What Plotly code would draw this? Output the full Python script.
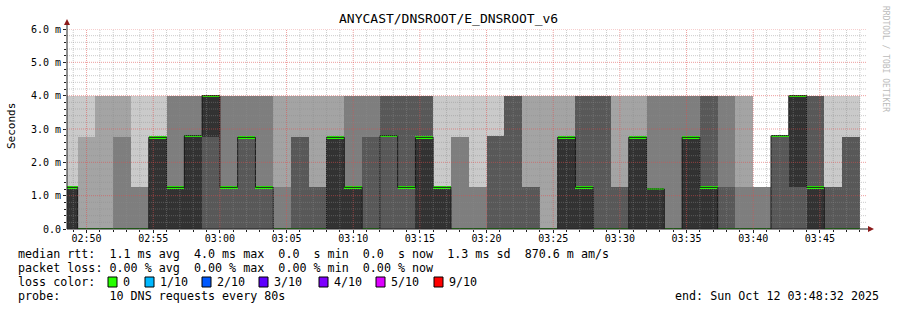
import plotly.graph_objects as go
import pandas as pd

# ---------------- data (values in ms) ----------------
graph_start = "2025-10-12 02:48:32"
graph_end = "2025-10-12 03:48:32"
first_step_end = "2025-10-12 02:49:20"
step_seconds = 80

# sorted ping times per 80 s step (10 DNS requests per step)
ping1 = [0.0, 0.0, 0.0, 0.0, 0.0, 0.0, 0.0, 0.0, 0.0, 0.0,
         0.0, 0.0, 0.0, 0.0, 0.0, 0.0, 0.0, 0.0, 0.0, 0.0,
         0.0, 0.0, 0.0, 0.0, 0.0, 0.0, 0.0, 0.0, 0.0, 0.0,
         0.0, 0.0, 0.0, 0.0, 0.0, 0.0, 0.0, 0.0, 0.0, 0.0,
         0.0, 0.0, 0.0, 0.0, 0.0]
ping2 = [0.0, 0.0, 0.0, 0.0, 0.0, 0.0, 0.0, 0.0, 0.0, 0.0,
         0.0, 0.0, 0.0, 0.0, 0.0, 0.0, 0.0, 0.0, 0.0, 0.0,
         0.0, 0.0, 0.0, 0.0, 0.0, 0.0, 0.0, 0.0, 0.0, 0.0,
         0.0, 0.0, 0.0, 0.0, 0.0, 0.0, 0.0, 0.0, 0.0, 0.0,
         0.0, 0.0, 0.0, 0.0, 0.0]
ping3 = [0.0, 0.0, 0.0, 0.0, 0.0, 0.0, 0.0, 0.0, 0.0, 0.0,
         0.0, 0.0, 0.0, 0.0, 0.0, 0.0, 0.0, 0.0, 0.0, 0.0,
         0.0, 0.0, 0.0, 0.0, 0.0, 0.0, 0.0, 0.0, 0.0, 0.0,
         0.0, 0.0, 0.0, 0.0, 0.0, 0.0, 0.0, 0.0, 0.0, 0.0,
         0.0, 0.0, 0.0, 0.0, 0.0]
ping4 = [0.0, 0.0, 0.0, 0.0, 0.0, 0.0, 0.0, 0.0, 0.0, 0.0,
         0.0, 0.0, 0.0, 0.0, 0.0, 0.0, 0.0, 0.0, 0.0, 0.0,
         0.0, 0.0, 0.0, 0.0, 0.0, 0.0, 0.0, 0.0, 0.0, 0.0,
         0.0, 0.0, 0.0, 0.0, 0.0, 0.0, 0.0, 0.0, 0.0, 0.0,
         0.0, 0.0, 0.0, 0.0, 0.0]
ping5 = [0.0, 0.0, 0.0, 0.0, 0.0, 0.0, 0.0, 0.0, 2.75, 1.25,
         2.75, 1.25, 0.0, 0.0, 0.0, 0.0, 0.0, 0.0, 2.8, 1.25,
         0.0, 0.0, 0.0, 0.0, 0.0, 0.0, 0.0, 0.0, 0.0, 0.0,
         0.0, 0.0, 0.0, 0.0, 0.0, 0.0, 0.0, 0.0, 0.0, 0.0,
         2.8, 1.25, 0.0, 0.0, 0.0]
ping6 = [1.25, 0.0, 0.0, 0.0, 0.0, 2.75, 1.25, 2.8, 4.0, 1.25,
         2.75, 1.25, 0.0, 0.0, 0.0, 2.75, 1.25, 0.0, 2.8, 1.25,
         2.75, 1.25, 0.0, 0.0, 0.0, 0.0, 0.0, 0.0, 2.75, 1.25,
         0.0, 0.0, 2.75, 1.2, 0.0, 2.75, 1.25, 0.0, 0.0, 0.0,
         2.8, 4.0, 1.25, 0.0, 0.0]
ping7 = [1.25, 0.0, 0.0, 0.0, 0.0, 2.75, 1.25, 2.8, 4.0, 1.25,
         2.75, 1.25, 0.0, 2.75, 1.25, 2.75, 1.25, 2.75, 4.0, 4.0,
         4.0, 1.25, 0.0, 0.0, 2.8, 4.0, 1.25, 0.0, 2.75, 4.0,
         4.0, 1.25, 2.75, 1.2, 0.0, 2.75, 4.0, 1.25, 0.0, 0.0,
         2.8, 4.0, 4.0, 1.25, 2.75]
ping8 = [1.25, 0.0, 0.0, 2.75, 1.25, 2.75, 4.0, 4.0, 4.0, 4.0,
         4.0, 4.0, 1.25, 2.75, 1.25, 2.75, 4.0, 4.0, 4.0, 4.0,
         4.0, 1.25, 2.75, 1.25, 2.8, 4.0, 1.25, 0.0, 2.75, 4.0,
         4.0, 1.25, 2.75, 4.0, 4.0, 4.0, 4.0, 4.0, 1.25, 1.25,
         2.8, 4.0, 4.0, 1.25, 2.75]
ping9 = [1.25, 2.75, 4.0, 4.0, 1.25, 2.75, 4.0, 4.0, 4.0, 4.0,
         4.0, 4.0, 4.0, 4.0, 4.0, 4.0, 4.0, 4.0, 4.0, 4.0,
         4.0, 1.25, 2.75, 1.25, 2.8, 4.0, 4.0, 4.0, 4.0, 4.0,
         4.0, 4.0, 4.0, 4.0, 4.0, 4.0, 4.0, 4.0, 4.0, 1.25,
         2.8, 4.0, 4.0, 1.25, 2.75]
ping10 = [4.0, 4.0, 4.0, 4.0, 4.0, 4.0, 4.0, 4.0, 4.0, 4.0,
          4.0, 4.0, 4.0, 4.0, 4.0, 4.0, 4.0, 4.0, 4.0, 4.0,
          4.0, 4.0, 4.0, 4.0, 4.0, 4.0, 4.0, 4.0, 4.0, 4.0,
          4.0, 4.0, 4.0, 4.0, 4.0, 4.0, 4.0, 4.0, 4.0, 1.25,
          2.8, 4.0, 4.0, 4.0, 4.0]
median_rtt = [1.25, 0.0, 0.0, 0.0, 0.0, 2.75, 1.25, 2.8, 4.0, 1.25,
              2.75, 1.25, 0.0, 0.0, 0.0, 2.75, 1.25, 0.0, 2.8, 1.25,
              2.75, 1.25, 0.0, 0.0, 0.0, 0.0, 0.0, 0.0, 2.75, 1.25,
              0.0, 0.0, 2.75, 1.2, 0.0, 2.75, 1.25, 0.0, 0.0, 0.0,
              2.8, 4.0, 1.25, 0.0, 0.0]

y_tick_values = [0, 1, 2, 3, 4, 5, 6]
y_tick_labels = ["0.0", "1.0 m", "2.0 m", "3.0 m", "4.0 m", "5.0 m", "6.0 m"]

title_text = "ANYCAST/DNSROOT/E_DNSROOT_v6"
legend_rtt = "median rtt:  1.1 ms avg  4.0 ms max  0.0  s min  0.0  s now  1.3 ms sd  870.6 m am/s"
legend_loss = "packet loss: 0.00 % avg  0.00 % max  0.00 % min  0.00 % now"
legend_probe = "probe:       10 DNS requests every 80s"
legend_end = "end: Sun Oct 12 03:48:32 2025"
loss_labels = ["0", "1/10", "2/10", "3/10", "4/10", "5/10", "9/10"]
loss_colors = ["#26ff00", "#00b8ff", "#0059ff", "#5e00ff", "#7e00ff", "#dd00ff", "#ff0000"]

smoke_colors = ["#cacaca", "#a4a4a4", "#7e7e7e", "#585858", "#323232"]

# ---------------- geometry helpers ----------------
W, H = 897, 310
ML, MR, MT, MB = 67, 30, 29, 81
PW = W - ML - MR
PH = H - MT - MB


def px_x(px):
    return (px - ML) / PW


def px_y(py):
    return (H - MB - py) / PH


def nb(s):
    return s.replace(" ", "\u00a0")


MONO = "DejaVu Sans Mono"

step_end = pd.date_range(first_step_end, periods=len(median_rtt), freq=f"{step_seconds}s")
step_mid = step_end - pd.Timedelta(seconds=step_seconds / 2)
step_begin = step_end - pd.Timedelta(seconds=step_seconds)

pings = [ping1, ping2, ping3, ping4, ping5, ping6, ping7, ping8, ping9, ping10]

fig = go.Figure()

# smoke: layer i spans ping_i .. ping_(11-i), inner layers darker
for i in range(5):
    lo = pings[i]
    hi = pings[9 - i]
    fig.add_trace(go.Bar(
        x=step_mid, y=[h - l for l, h in zip(lo, hi)], base=lo,
        width=step_seconds * 1000, marker=dict(color=smoke_colors[i], line=dict(width=0)),
        showlegend=False, hoverinfo="skip"))

# median step line
fig.add_trace(go.Scatter(
    x=list(step_begin) + [step_end[-1]], y=median_rtt + [median_rtt[-1]],
    mode="lines", line=dict(color="#1a1a1a", width=1, shape="hv"),
    showlegend=False, hoverinfo="skip"))

# median coloured by loss (0 loss -> green)
band = 0.07
fig.add_trace(go.Bar(
    x=step_mid, y=[band] * len(median_rtt), base=[m - band / 2 for m in median_rtt],
    width=step_seconds * 1000, marker=dict(color=loss_colors[0], line=dict(width=0)),
    showlegend=False, hoverinfo="skip"))

shapes = []
minor_col = "rgba(140,140,140,0.45)"
major_col = "rgba(222,79,79,0.55)"
dash = "1px,1px"
# vertical grid (every minute, major every 5 minutes)
for t in pd.date_range("2025-10-12 02:49:00", "2025-10-12 03:48:00", freq="1min"):
    col = major_col if t.minute % 5 == 0 else minor_col
    shapes.append(dict(type="line", xref="x", yref="paper", x0=t, x1=t, y0=0, y1=1,
                       line=dict(color=col, width=1, dash=dash), layer="above"))
# horizontal grid (every 0.2 ms, major every 1 ms)
for k in range(1, 31):
    yv = k * 0.2
    col = major_col if k % 5 == 0 else minor_col
    shapes.append(dict(type="line", xref="paper", yref="y", x0=0, x1=1, y0=yv, y1=yv,
                       line=dict(color=col, width=1, dash=dash), layer="above"))

# axes lines and arrows
axis_col = "#202020"
arrow_col = "#8b1a1a"
shapes.append(dict(type="line", xref="paper", yref="paper", x0=0, x1=px_x(869), y0=0, y1=0,
                   line=dict(color=axis_col, width=1), layer="above"))
shapes.append(dict(type="line", xref="paper", yref="paper", x0=0, x1=0, y0=0, y1=px_y(24),
                   line=dict(color=axis_col, width=1), layer="above"))
shapes.append(dict(type="path", xref="paper", yref="paper",
                   path=f"M {px_x(64)} {px_y(25)} L {px_x(70)} {px_y(25)} L {px_x(67)} {px_y(19)} Z",
                   fillcolor=arrow_col, line=dict(color=arrow_col, width=0), layer="above"))
shapes.append(dict(type="path", xref="paper", yref="paper",
                   path=f"M {px_x(868)} {px_y(226)} L {px_x(868)} {px_y(232)} L {px_x(874)} {px_y(229)} Z",
                   fillcolor=arrow_col, line=dict(color=arrow_col, width=0), layer="above"))

annotations = []
annotations.append(dict(text=title_text, xref="paper", yref="paper", x=px_x(448), y=px_y(19),
                        xanchor="center", yanchor="middle", showarrow=False,
                        font=dict(family=MONO, size=13, color="#000000")))
annotations.append(dict(text="Seconds", xref="paper", yref="paper", x=px_x(11), y=px_y(126),
                        xanchor="center", yanchor="middle", showarrow=False, textangle=-90,
                        font=dict(family=MONO, size=11, color="#000000")))
annotations.append(dict(text=nb("RRDTOOL / TOBI OETIKER"), xref="paper", yref="paper",
                        x=px_x(886), y=px_y(59), xanchor="center", yanchor="middle",
                        showarrow=False, textangle=90,
                        font=dict(family=MONO, size=8, color="#bbbbbb")))

leg_font = dict(family=MONO, size=11.7, color="#000000")
for txt, yy in [(legend_rtt, 254), (legend_loss, 268), (legend_probe, 296)]:
    annotations.append(dict(text=nb(txt), xref="paper", yref="paper", x=px_x(16), y=px_y(yy),
                            xanchor="left", yanchor="middle", showarrow=False, font=leg_font))
annotations.append(dict(text=nb("loss color:"), xref="paper", yref="paper", x=px_x(16), y=px_y(282),
                        xanchor="left", yanchor="middle", showarrow=False, font=leg_font))
annotations.append(dict(text=nb(legend_end), xref="paper", yref="paper", x=px_x(881), y=px_y(296),
                        xanchor="right", yanchor="middle", showarrow=False, font=leg_font))

box_x = [108, 145, 202, 259, 319, 376, 434]
for bx, lab, c in zip(box_x, loss_labels, loss_colors):
    shapes.append(dict(type="rect", xref="paper", yref="paper",
                       x0=px_x(bx), x1=px_x(bx + 9), y0=px_y(287), y1=px_y(277),
                       fillcolor=c, line=dict(color="#000000", width=1)))
    annotations.append(dict(text=lab, xref="paper", yref="paper", x=px_x(bx + 13), y=px_y(282),
                            xanchor="left", yanchor="middle", showarrow=False, font=leg_font))

x_ticks = pd.date_range("2025-10-12 02:50:00", "2025-10-12 03:45:00", freq="5min")

fig.update_layout(
    width=W, height=H,
    margin=dict(l=ML, r=MR, t=MT, b=MB, pad=0),
    paper_bgcolor="#ffffff", plot_bgcolor="#ffffff",
    barmode="overlay", bargap=0, showlegend=False,
    shapes=shapes, annotations=annotations,
    xaxis=dict(type="date", range=[graph_start, graph_end], showgrid=False, zeroline=False,
               showline=False, tickvals=list(x_ticks), ticktext=[t.strftime("%H:%M") for t in x_ticks],
               ticks="outside", ticklen=3, tickcolor=axis_col, tickwidth=1,
               ticklabelstandoff=-3,
               tickfont=dict(family=MONO, size=10, color="#000000"),
               minor=dict(ticks="outside", ticklen=2, tickcolor=axis_col, dtick=60000,
                          tick0="2025-10-12 02:49:00", showgrid=False),
               fixedrange=True),
    yaxis=dict(range=[0, 6], showgrid=False, zeroline=False, showline=False,
               tickvals=y_tick_values, ticktext=y_tick_labels,
               ticks="outside", ticklen=3, tickcolor=axis_col, tickwidth=1,
               tickfont=dict(family=MONO, size=10, color="#000000"),
               minor=dict(ticks="outside", ticklen=2, tickcolor=axis_col, dtick=0.2, showgrid=False),
               fixedrange=True),
)

fig.write_html("out.html", config={"displayModeBar": False})
